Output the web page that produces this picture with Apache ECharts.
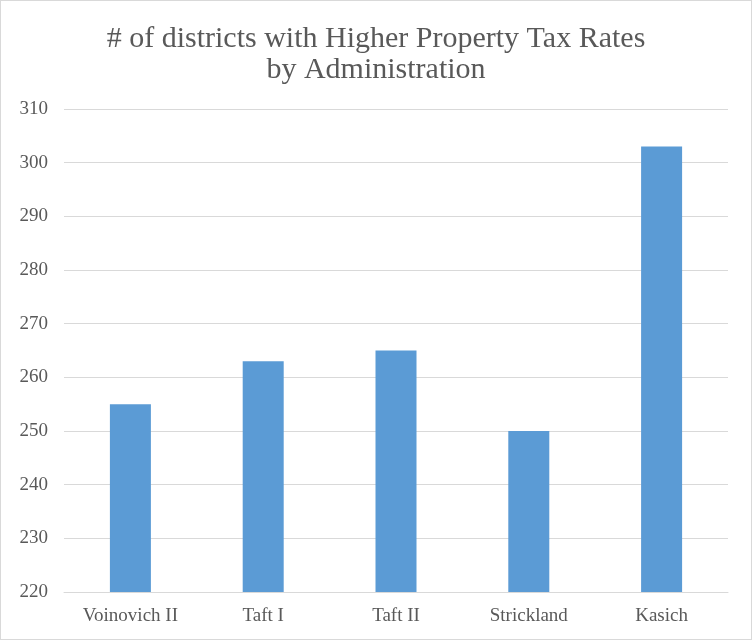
<!DOCTYPE html>
<html>
<head>
<meta charset="utf-8">
<script src="https://cdn.jsdelivr.net/npm/echarts@6/dist/echarts.min.js"></script>
<style>
  html, body { margin: 0; padding: 0; background: #fff; }
  #chart { width: 750px; height: 638px; border: 1px solid #d9d9d9; }
</style>
</head>
<body>
<div id="chart"></div>
<script>
// Districts with higher property tax rates, by administration
const administrations = ['Voinovich II', 'Taft I', 'Taft II', 'Strickland', 'Kasich'];
const districtCounts = [255, 263, 265, 250, 303];
const yTicks = { min: 220, max: 310, step: 10 };

const chart = echarts.init(document.getElementById('chart'));
const textColor = '#595959';
const serif = '"Liberation Serif", "DejaVu Serif", serif';

chart.setOption({
    backgroundColor: '#fff',
    title: {
        text: '# of districts with Higher Property Tax Rates\nby Administration',
        left: 'center',
        top: 18,
        textStyle: { fontFamily: serif, fontSize: 30, fontWeight: 'normal', color: textColor, lineHeight: 31 }
    },
    grid: { left: 63, right: 23, top: 108, bottom: 47 },
    xAxis: {
        type: 'category',
        data: administrations,
        axisTick: { show: false },
        axisLine: { lineStyle: { color: '#d9d9d9' } },
        axisLabel: { fontFamily: serif, fontSize: 19, color: textColor, margin: 15 }
    },
    yAxis: {
        type: 'value',
        min: yTicks.min,
        max: yTicks.max,
        interval: yTicks.step,
        axisLine: { show: false },
        axisTick: { show: false },
        splitLine: { lineStyle: { color: '#d9d9d9' } },
        axisLabel: { fontFamily: serif, fontSize: 19, color: textColor, margin: 16 }
    },
    series: [{
        type: 'bar',
        data: districtCounts,
        barWidth: 41,
        itemStyle: { color: '#5b9bd5' },
        animation: false
    }]
});
</script>
</body>
</html>
